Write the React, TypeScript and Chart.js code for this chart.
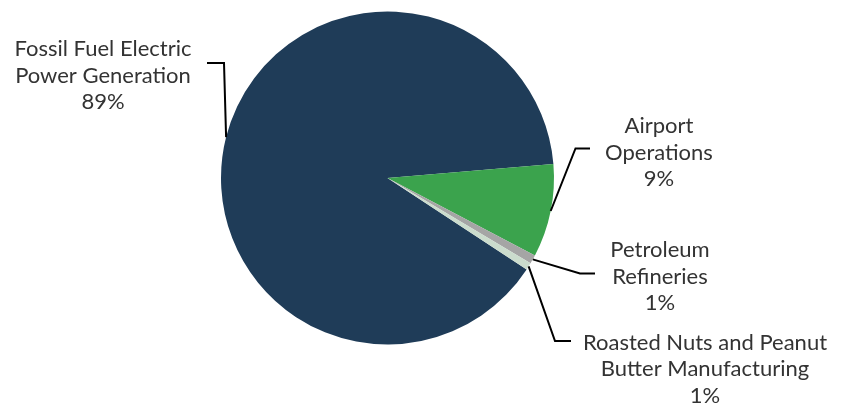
import React, { useEffect, useRef } from "react";
import { Chart, registerables } from "chart.js";

Chart.register(...registerables);

// ---- data ----
const CATEGORIES: string[][] = [
  ["Fossil Fuel Electric", "Power Generation"],
  ["Airport", "Operations"],
  ["Petroleum", "Refineries"],
  ["Roasted Nuts and Peanut", "Butter Manufacturing"],
];
const SHARES: number[] = [89.4, 9.05, 0.85, 0.7];
const COLORS: string[] = ["#1f3c58", "#3ba34d", "#a5a5a5", "#cbdccd"];

// ---- label layout (elbow, end of leader, text centre x, first baseline) ----
const LABEL_LAYOUT = [
  { elbow: [224, 63], end: [207, 63], tx: 103, ty: 56 },
  { elbow: [575.5, 148.5], end: [590, 148.5], tx: 659, ty: 133 },
  { elbow: [580, 273.5], end: [595, 273.5], tx: 660, ty: 257 },
  { elbow: [555, 341], end: [571, 341], tx: 705, ty: 349.5 },
];
const FONT = "22px Lato";
const LINE_H = 26.5;
const TEXT_COLOR = "#333333";

const leaderPlugin = {
  id: "leaders",
  afterDraw(chart: any) {
    const ctx = chart.ctx;
    const meta = chart.getDatasetMeta(0);
    const total = SHARES.reduce((a, b) => a + b, 0);
    ctx.save();
    meta.data.forEach((arc: any, i: number) => {
      const lay = LABEL_LAYOUT[i];
      const mid = (arc.startAngle + arc.endAngle) / 2;
      const r = arc.outerRadius;
      const sx = arc.x + Math.cos(mid) * r;
      const sy = arc.y + Math.sin(mid) * r;
      ctx.beginPath();
      ctx.strokeStyle = "#000000";
      ctx.lineWidth = 2;
      ctx.moveTo(sx, sy);
      ctx.lineTo(lay.elbow[0], lay.elbow[1]);
      ctx.lineTo(lay.end[0], lay.end[1]);
      ctx.stroke();
      const lines = [...CATEGORIES[i], Math.round((SHARES[i] / total) * 100) + "%"];
      ctx.fillStyle = TEXT_COLOR;
      ctx.font = FONT;
      ctx.textAlign = "center";
      ctx.textBaseline = "alphabetic";
      lines.forEach((t, k) => ctx.fillText(t, lay.tx, lay.ty + k * LINE_H));
    });
    ctx.restore();
  },
};

export default function App() {
  const ref = useRef<HTMLCanvasElement>(null);
  useEffect(() => {
    document.body.style.margin = "0";
    const chart = new Chart(ref.current!, {
      type: "pie",
      data: {
        labels: CATEGORIES.map((c) => c.join(" ")),
        datasets: [
          {
            data: SHARES,
            backgroundColor: COLORS,
            borderWidth: 0,
          },
        ],
      },
      options: {
        responsive: false,
        animation: false,
        rotation: 123.3,
        layout: { padding: { top: 11.5, bottom: 59.5, left: 221, right: 290 } },
        plugins: { legend: { display: false }, tooltip: { enabled: false } },
      },
      plugins: [leaderPlugin],
    });
    return () => chart.destroy();
  }, []);
  return (
    <div style={{ position: "absolute", left: 0, top: 0, width: 844, height: 404, background: "#fff" }}>
      <canvas ref={ref} width={844} height={404} />
    </div>
  );
}
